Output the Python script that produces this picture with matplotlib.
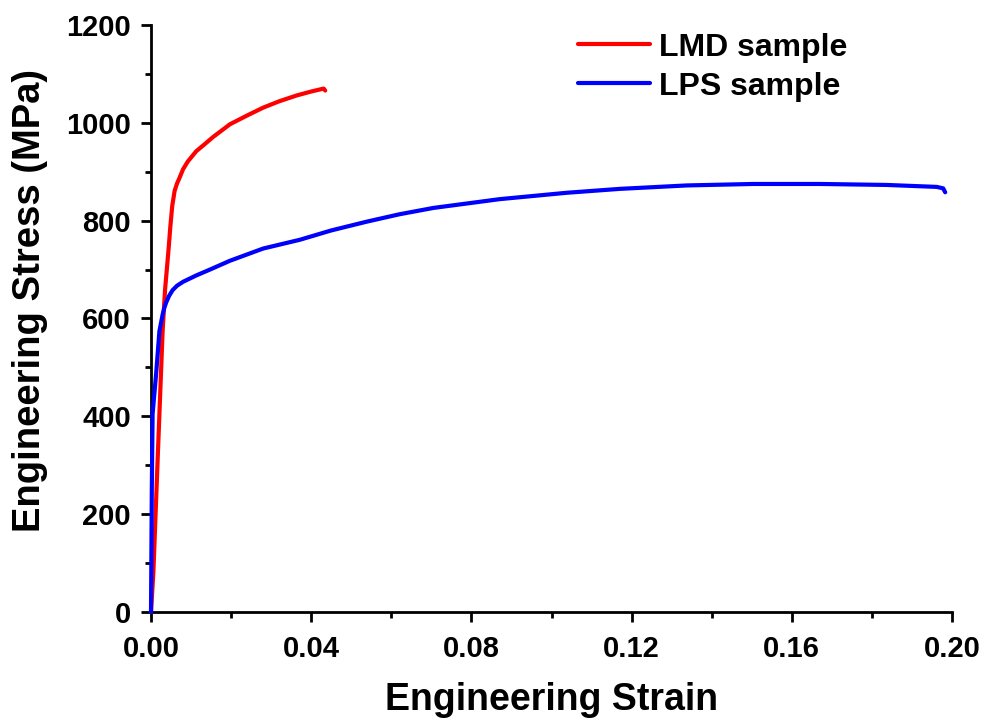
import matplotlib
matplotlib.use("Agg")
import matplotlib.pyplot as plt
from matplotlib.ticker import MultipleLocator, FormatStrFormatter

plt.rcParams['font.family'] = ['Liberation Sans', 'DejaVu Sans']
plt.rcParams['font.weight'] = 'bold'

# --- data ---
lmd_strain = [0.0, 0.0006, 0.0017, 0.0029, 0.0035, 0.0040, 0.0044, 0.0048,
              0.0053, 0.0059, 0.0065, 0.0071, 0.0080, 0.0092, 0.0113, 0.0135,
              0.0155, 0.0197, 0.0240, 0.0280, 0.0320, 0.0364, 0.0400, 0.0431, 0.0435]
lmd_stress = [0, 83, 320, 574, 658, 705, 743, 785,
              830, 861, 876, 887, 905, 921, 942, 957,
              971, 997, 1015, 1031, 1044, 1056, 1064, 1070, 1066]

lps_strain = [0.0, 0.0002, 0.0004, 0.0013, 0.0021, 0.0029, 0.0033, 0.0038,
              0.0045, 0.0054, 0.0065, 0.0080, 0.0113, 0.0150, 0.0197, 0.0280,
              0.0372, 0.0450, 0.0539, 0.0620, 0.0705, 0.0871, 0.1038, 0.1171,
              0.1338, 0.1504, 0.1670, 0.1837, 0.1962, 0.1978, 0.1983]
lps_stress = [0, 250, 405, 489, 574, 608, 621, 633,
              646, 658, 667, 675, 688, 701, 718, 743,
              761, 780, 798, 813, 826, 844, 857, 865,
              872, 875, 875, 873, 869, 866, 858]

fig = plt.figure(figsize=(9.85, 7.2), dpi=100)
ax = fig.add_axes([0.1533, 0.15, 0.8132, 0.8153])

ax.plot(lmd_strain, lmd_stress, color='#ff0000', lw=3, label='LMD sample',
        solid_capstyle='round', solid_joinstyle='round', clip_on=False, zorder=3)
ax.plot(lps_strain, lps_stress, color='#0000ff', lw=3, label='LPS sample',
        solid_capstyle='round', solid_joinstyle='round', clip_on=False, zorder=4)

ax.set_xlim(0, 0.2)
ax.set_ylim(0, 1200)
ax.xaxis.set_major_locator(MultipleLocator(0.04))
ax.xaxis.set_minor_locator(MultipleLocator(0.02))
ax.yaxis.set_major_locator(MultipleLocator(200))
ax.yaxis.set_minor_locator(MultipleLocator(100))
ax.xaxis.set_major_formatter(FormatStrFormatter('%.2f'))

for s in ['top', 'right']:
    ax.spines[s].set_visible(False)
for s in ['left', 'bottom']:
    ax.spines[s].set_linewidth(2.0)

ax.tick_params(which='major', direction='out', length=7.5, width=2, labelsize=21)
ax.tick_params(axis='x', which='major', pad=9)
ax.tick_params(axis='y', which='major', pad=7)
ax.tick_params(which='minor', direction='out', length=4.5, width=2)
for lab in ax.get_xticklabels() + ax.get_yticklabels():
    lab.set_fontweight('bold')

ax.set_xlabel('Engineering Strain', fontsize=27, fontweight='bold', labelpad=14)
ax.set_ylabel('Engineering Stress (MPa)', fontsize=27.5, fontweight='bold')
ax.yaxis.set_label_coords(-0.128, 0.53)

leg = ax.legend(loc='upper left', bbox_to_anchor=(0.505, 1.025), frameon=False,
                fontsize=23, handlelength=2.25, handletextpad=0.3, labelspacing=0.28,
                borderpad=0.2)

fig.savefig('out.png', dpi=100)
